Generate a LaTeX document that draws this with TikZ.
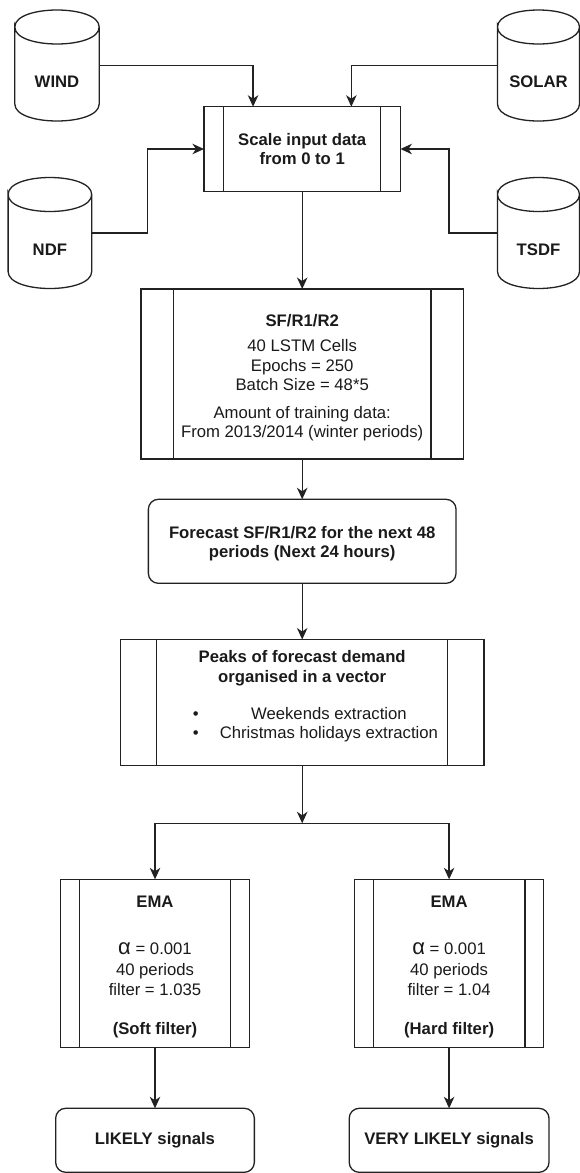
\documentclass[tikz,border=0pt]{standalone}
\usepackage{fontspec}
\setmainfont{Liberation Sans}
\usetikzlibrary{arrows.meta,calc}
\definecolor{linec}{HTML}{222222}
\definecolor{txtc}{HTML}{1A1A1A}
\newcommand\fs{\fontsize{16.7}{19.5}\selectfont}
\newcommand\bitem[1]{\makebox[0pt][l]{\hspace*{-109.4pt}\makebox[26.8pt][l]{•}\makebox[218.6pt][c]{#1}}}
\newcommand\drawcyl[1]{%
  \draw[shp] let \p1=(#1.north west), \p2=(#1.south east) in
    (\x1,\y1-17pt) .. controls (\x1,\y1+5.67pt) and (\x2,\y1+5.67pt) .. (\x2,\y1-17pt)
    .. controls (\x2,\y1-39.67pt) and (\x1,\y1-39.67pt) .. (\x1,\y1-17pt)
    -- (\x1,\y2+17pt) .. controls (\x1,\y2-5.67pt) and (\x2,\y2-5.67pt) .. (\x2,\y2+17pt)
    -- (\x2,\y1-17pt);}
\begin{document}
\begin{tikzpicture}[x=1pt,y=-1pt,
  every node/.style={font=\fs, text=txtc},
  shp/.style={draw=linec, line width=1.3pt},
  arr/.style={draw=linec, line width=1.3pt, -{Stealth[length=11.5pt,width=10.5pt,inset=3.5pt]}},
  cylnode/.style={rectangle, inner sep=0pt, outer sep=0pt},
  cyltxt/.style={font=\fs\bfseries, yshift=-16.5pt},
  boxtxt/.style={align=center, inner sep=0pt},
  procbox/.style={shp, rectangle, inner sep=0pt, outer sep=0pt,
    path picture={
      \draw[shp] ($(path picture bounding box.north west)!0.1!(path picture bounding box.north east)$) -- ($(path picture bounding box.south west)!0.1!(path picture bounding box.south east)$);
      \draw[shp] ($(path picture bounding box.north west)!0.9!(path picture bounding box.north east)$) -- ($(path picture bounding box.south west)!0.9!(path picture bounding box.south east)$);
    }},
  roundbox/.style={shp, rectangle, rounded corners=10pt, inner sep=0pt, outer sep=0pt, font=\fs\bfseries, align=center}
]
\useasboundingbox (0,0) rectangle (580,1173);

% data sources
\node[cylnode, minimum width=84.4pt, minimum height=111pt, label={[cyltxt]center:WIND}] (wind) at (57,65.5) {};
\node[cylnode, minimum width=82pt, minimum height=111pt, label={[cyltxt]center:SOLAR}] (solar) at (538.5,65.5) {};
\node[cylnode, minimum width=83.6pt, minimum height=111pt, label={[cyltxt]center:NDF}] (ndf) at (49.9,233) {};
\node[cylnode, minimum width=82pt, minimum height=111pt, label={[cyltxt]center:TSDF}] (tsdf) at (538.5,233) {};
\drawcyl{wind}
\drawcyl{solar}
\drawcyl{ndf}
\drawcyl{tsdf}

% process chain
\node[procbox, minimum width=196.5pt, minimum height=84.6pt, font=\fs\bfseries, align=center] (scale) at (302.2,149) {Scale input data\\from 0 to 1};

\node[procbox, minimum width=322.3pt, minimum height=170pt,
  label={[boxtxt, yshift=-3.85pt]center:{\textbf{SF/R1/R2}\\[5.6pt]40 LSTM Cells\\Epochs = 250\\Batch Size = 48*5\\[7.9pt]Amount of training data:\\From 2013/2014 (winter periods)}}] (sf) at (302.2,374) {};

\node[roundbox, minimum width=307.7pt, minimum height=84pt,
  label={[boxtxt, font=\fs\bfseries, yshift=-2.5pt]center:{Forecast SF/R1/R2 for the next 48\\periods (Next 24 hours)}}] (fc) at (302.2,541.3) {};

\node[procbox, minimum width=363.8pt, minimum height=126.2pt,
  label={[boxtxt, yshift=6.15pt]center:{\textbf{Peaks of forecast demand}\\\textbf{organised in a vector}\\[17.1pt]\bitem{Weekends extraction}\\\bitem{Christmas holidays extraction}}}] (peaks) at (302.2,702.6) {};

\coordinate (split) at (302.2,823.3);

\node[procbox, minimum width=189.4pt, minimum height=168.4pt,
  label={[boxtxt, yshift=-3.4pt]center:{\textbf{EMA}\\[27pt]{\fontsize{22}{22}\selectfont α} = 0.001\\[1.7pt]40 periods\\filter = 1.035\\[19.5pt]\textbf{(Soft filter)}}}] (emaL) at (155,963.5) {};
\node[procbox, minimum width=189.4pt, minimum height=168.4pt,
  label={[boxtxt, yshift=-3.4pt]center:{\textbf{EMA}\\[27pt]{\fontsize{22}{22}\selectfont α} = 0.001\\[1.7pt]40 periods\\filter = 1.04\\[19.5pt]\textbf{(Hard filter)}}}] (emaR) at (449.1,963.5) {};

\node[roundbox, minimum width=198.7pt, minimum height=64pt] (likL) at (155,1140.3) {LIKELY signals};
\node[roundbox, minimum width=199.8pt, minimum height=64pt] (likR) at (449.1,1140.3) {VERY LIKELY signals};

% connectors
\draw[arr] (wind.east) -| ($(scale.north west)!0.25!(scale.north east)$);
\draw[arr] (solar.west) -| ($(scale.north west)!0.75!(scale.north east)$);
\draw[arr] (ndf.east) -| ($(ndf.east)!0.5!(scale.west)$) |- (scale.west);
\draw[arr] (tsdf.west) -| ($(tsdf.west)!0.5!(scale.east)$) |- (scale.east);
\draw[arr] (scale.south) -- (sf.north);
\draw[arr] (sf.south) -- (fc.north);
\draw[arr] (fc.south) -- (peaks.north);
\draw[arr] (peaks.south) -- (split);
\draw[arr] (split) -| (emaL.north);
\draw[arr] (split) -| (emaR.north);
\draw[arr] (emaL.south) -- (likL.north);
\draw[arr] (emaR.south) -- (likR.north);
\end{tikzpicture}
\end{document}
